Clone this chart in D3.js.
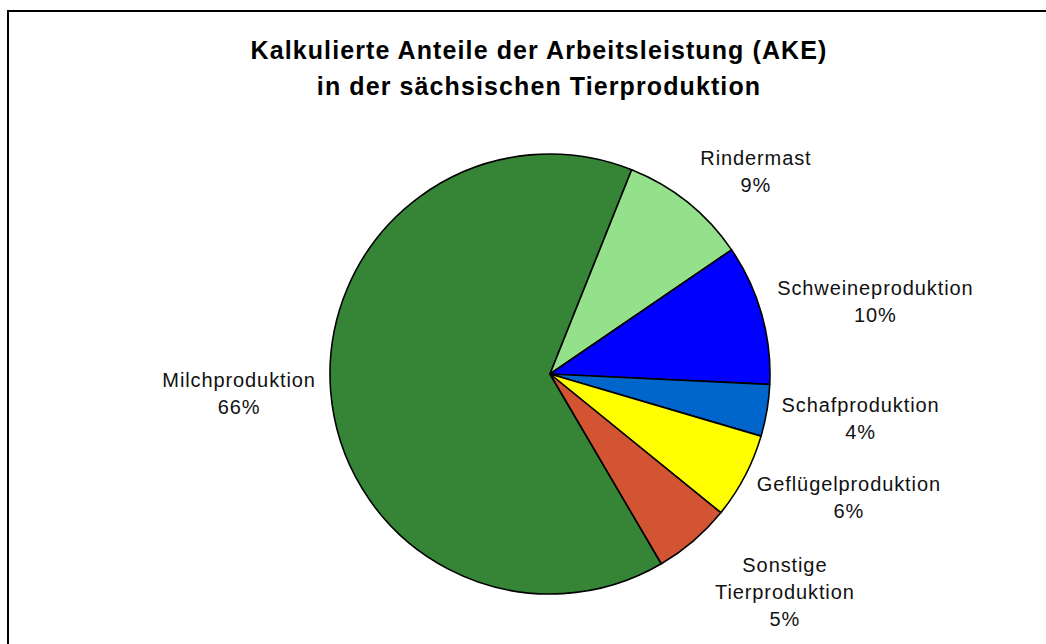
<!DOCTYPE html>
<html>
<head>
<meta charset="utf-8">
<script src="https://cdn.jsdelivr.net/npm/d3@7"></script>
<style>
  body { margin: 0; background: #fff; }
  svg { display: block; font-family: "Liberation Sans", Arial, sans-serif; }
</style>
</head>
<body>
<svg id="chart" width="1046" height="644"></svg>
<script>
// data
const categories = ["Milchproduktion", "Rindermast", "Schweineproduktion",
    "Schafproduktion", "Geflügelproduktion", "Sonstige Tierproduktion"];
const shares = [64.5, 9.4, 10.3, 3.8, 6.3, 5.7];
const shownPercent = ["66%", "9%", "10%", "4%", "6%", "5%"];
const colors = ["#368536", "#95e08a", "#0000ff", "#0066cc", "#ffff00", "#d35433"];
const titleLines = ["Kalkulierte Anteile der Arbeitsleistung (AKE)",
    "in der sächsischen Tierproduktion"];

function renderPie() {
    let svg = d3.select("#chart"),
        cx = 550,
        cy = 374,
        radius = 220;

    // outer frame, runs off the right and bottom edge
    svg.append("rect")
        .attr("x", 8).attr("y", 11)
        .attr("width", 1100).attr("height", 700)
        .attr("fill", "none")
        .attr("stroke", "#000")
        .attr("stroke-width", 2);

    svg.append("g").selectAll("text")
        .data(titleLines)
        .enter().append("text")
        .attr("x", 539)
        .attr("y", (d, i) => 59 + i * 36)
        .attr("text-anchor", "middle")
        .attr("font-size", 25)
        .attr("font-weight", "bold")
        .attr("letter-spacing", 1.1)
        .text(d => d);

    let data = categories.map((c, i) => ({ name: c, value: shares[i], pct: shownPercent[i], color: colors[i] }));

    let start = 149.6 * Math.PI / 180;
    let pie = d3.pie()
        .sort(null)
        .value(d => d.value)
        .startAngle(start)
        .endAngle(start + 2 * Math.PI);

    let arc = d3.arc().innerRadius(0).outerRadius(radius);

    let g = svg.append("g").attr("transform", "translate(" + cx + "," + cy + ")");
    let arcs = pie(data);

    g.selectAll("path")
        .data(arcs)
        .enter().append("path")
        .attr("d", arc)
        .attr("fill", d => d.data.color)
        .attr("stroke", "#000")
        .attr("stroke-width", 1.6)
        .attr("stroke-linejoin", "round");

    // labels: box pushed out from the rim along the mid angle
    let nudge = {
        "Milchproduktion": [5, 0],
        "Rindermast": [21, 4],
        "Schafproduktion": [-4, 1],
        "Geflügelproduktion": [5, 0],
        "Sonstige Tierproduktion": [33, 7]
    };
    let gap = 20;

    arcs.forEach(a => {
        let lines = a.data.name.split(" ").concat([a.data.pct]);
        let t = g.append("text")
            .attr("text-anchor", "middle")
            .attr("font-size", 20)
            .attr("letter-spacing", 0.9)
            .attr("fill", "#111");
        lines.forEach((l, i) => {
            t.append("tspan").attr("x", 0).attr("y", i * 27).text(l);
        });
        let bb = t.node().getBBox();
        let mid = (a.startAngle + a.endAngle) / 2;
        let s = Math.sin(mid), c = -Math.cos(mid);
        let px = (radius + gap) * s + s * bb.width / 2;
        let py = (radius + gap) * c + c * bb.height / 2;
        let n = nudge[a.data.name] || [0, 0];
        px += n[0];
        py += n[1];
        let dx = px - (bb.x + bb.width / 2),
            dy = py - (bb.y + bb.height / 2);
        t.attr("transform", "translate(" + dx + "," + dy + ")");
    });
}

renderPie();
</script>
</body>
</html>
